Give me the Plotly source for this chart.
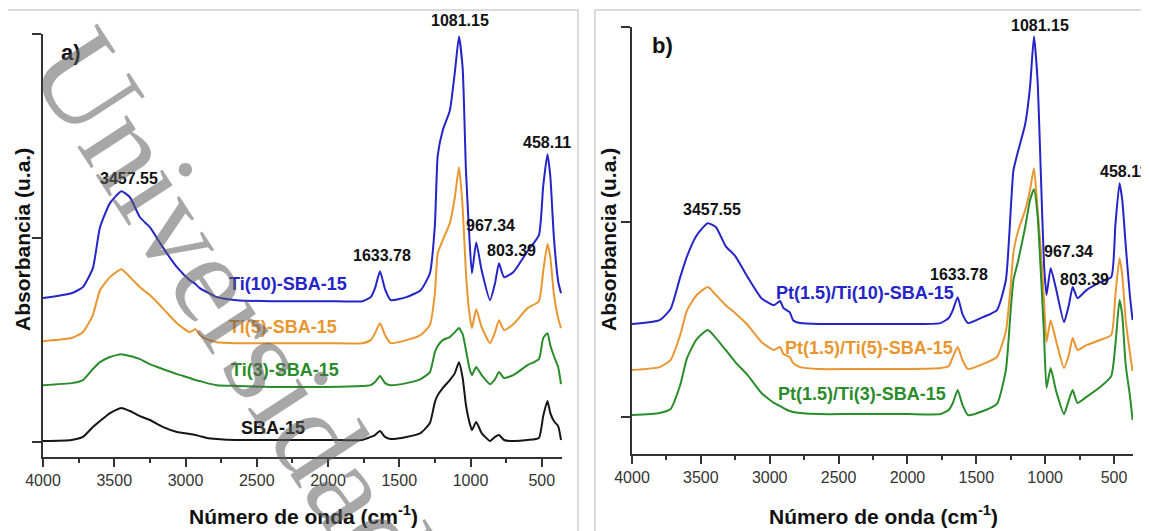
import plotly.graph_objects as go

# ---------------- data ----------------
wn_a = [4000, 3800, 3720, 3650, 3600, 3530, 3450, 3390, 3320, 3250, 3160, 3060, 2970, 2930, 2900, 2850,
        2780, 2640, 2400, 2000, 1760, 1700, 1670, 1635, 1600, 1560, 1450, 1350, 1285, 1250, 1230, 1195,
        1145, 1110, 1081, 1055, 1032, 1008, 990, 960, 922, 863, 828, 800, 765, 700, 600, 520, 490, 460,
        440, 415, 385, 365]

ti10 = [0.706, 0.730, 0.760, 0.853, 1.054, 1.172, 1.230, 1.201, 1.103, 1.054, 0.956, 0.858, 0.794, 0.775,
        0.755, 0.735, 0.711, 0.696, 0.691, 0.691, 0.691, 0.711, 0.755, 0.838, 0.750, 0.696, 0.711, 0.745,
        0.828, 1.064, 1.407, 1.529, 1.627, 1.814, 1.990, 1.833, 1.333, 1.005, 0.828, 0.980, 0.843, 0.696,
        0.779, 0.877, 0.809, 0.833, 0.936, 1.015, 1.255, 1.412, 1.304, 1.005, 0.789, 0.730]

ti5 = [0.495, 0.510, 0.539, 0.623, 0.745, 0.809, 0.848, 0.809, 0.760, 0.721, 0.657, 0.583, 0.539, 0.554,
       0.525, 0.505, 0.490, 0.485, 0.485, 0.485, 0.485, 0.500, 0.534, 0.583, 0.525, 0.485, 0.500, 0.525,
       0.574, 0.730, 0.926, 0.990, 1.074, 1.201, 1.348, 1.152, 0.828, 0.632, 0.559, 0.652, 0.564, 0.485,
       0.539, 0.598, 0.549, 0.578, 0.657, 0.691, 0.838, 0.971, 0.907, 0.725, 0.608, 0.559]

ti3 = [0.279, 0.289, 0.304, 0.358, 0.392, 0.417, 0.431, 0.422, 0.407, 0.382, 0.358, 0.333, 0.314, 0.304,
       0.299, 0.289, 0.279, 0.275, 0.270, 0.270, 0.275, 0.279, 0.294, 0.324, 0.289, 0.279, 0.289, 0.309,
       0.343, 0.441, 0.471, 0.500, 0.515, 0.539, 0.559, 0.529, 0.451, 0.363, 0.328, 0.368, 0.328, 0.284,
       0.309, 0.343, 0.314, 0.328, 0.377, 0.407, 0.510, 0.534, 0.475, 0.422, 0.368, 0.284]

sba15 = [0.005, 0.010, 0.025, 0.074, 0.103, 0.142, 0.167, 0.152, 0.127, 0.108, 0.074, 0.049, 0.039, 0.034,
         0.029, 0.020, 0.015, 0.010, 0.010, 0.010, 0.010, 0.025, 0.034, 0.054, 0.025, 0.015, 0.025, 0.044,
         0.093, 0.196, 0.230, 0.265, 0.304, 0.338, 0.392, 0.314, 0.181, 0.098, 0.059, 0.098, 0.044, 0.005,
         0.025, 0.034, 0.010, 0.005, 0.010, 0.020, 0.127, 0.201, 0.142, 0.103, 0.078, 0.010]

wn_b = [4000, 3800, 3720, 3650, 3600, 3530, 3450, 3390, 3320, 3250, 3160, 3060, 2970, 2925, 2900, 2855,
        2830, 2780, 2640, 2400, 2000, 1760, 1700, 1670, 1635, 1600, 1560, 1450, 1350, 1285, 1250, 1230,
        1195, 1145, 1110, 1081, 1055, 1032, 1008, 990, 960, 922, 863, 828, 800, 765, 700, 600, 520, 490,
        460, 440, 415, 385, 365]

pt_ti10 = [0.477, 0.497, 0.554, 0.718, 0.826, 0.933, 0.995, 0.974, 0.877, 0.826, 0.718, 0.610, 0.574, 0.595,
           0.559, 0.538, 0.497, 0.482, 0.477, 0.477, 0.477, 0.482, 0.508, 0.549, 0.615, 0.528, 0.482, 0.513,
           0.549, 0.703, 1.062, 1.267, 1.369, 1.503, 1.692, 1.954, 1.728, 1.267, 0.780, 0.626, 0.764, 0.662,
           0.487, 0.574, 0.667, 0.610, 0.651, 0.692, 0.718, 0.985, 1.200, 1.113, 0.882, 0.626, 0.497]

pt_ti5 = [0.241, 0.256, 0.292, 0.421, 0.549, 0.626, 0.667, 0.626, 0.574, 0.533, 0.472, 0.385, 0.344, 0.359,
          0.323, 0.308, 0.277, 0.256, 0.246, 0.246, 0.246, 0.251, 0.262, 0.308, 0.359, 0.292, 0.246, 0.272,
          0.308, 0.440, 0.677, 0.846, 0.959, 1.062, 1.164, 1.277, 1.067, 0.862, 0.600, 0.385, 0.497, 0.395,
          0.251, 0.318, 0.405, 0.344, 0.369, 0.395, 0.421, 0.626, 0.815, 0.728, 0.497, 0.333, 0.236]

pt_ti3 = [0.010, 0.021, 0.041, 0.164, 0.303, 0.400, 0.446, 0.405, 0.344, 0.282, 0.215, 0.123, 0.072, 0.056,
          0.046, 0.031, 0.026, 0.021, 0.015, 0.015, 0.015, 0.015, 0.036, 0.072, 0.138, 0.062, 0.010, 0.031,
          0.067, 0.241, 0.549, 0.703, 0.805, 0.974, 1.113, 1.169, 1.036, 0.754, 0.421, 0.149, 0.251, 0.138,
          0.015, 0.087, 0.138, 0.072, 0.103, 0.154, 0.210, 0.369, 0.600, 0.523, 0.267, 0.113, -0.015]

series_a = ["Ti(10)-SBA-15", "Ti(5)-SBA-15", "Ti(3)-SBA-15", "SBA-15"]
series_b = ["Pt(1.5)/Ti(10)-SBA-15", "Pt(1.5)/Ti(5)-SBA-15", "Pt(1.5)/Ti(3)-SBA-15"]
peak_labels = ["3457.55", "1633.78", "1081.15", "967.34", "803.39", "458.11"]
xticks = [4000, 3500, 3000, 2500, 2000, 1500, 1000, 500]
xminor = [3750, 3250, 2750, 2250, 1750, 1250, 750]

# ---------------- style ----------------
BLUE = "#2424c8"
ORANGE = "#ea9630"
GREEN = "#2a8c2a"
BLACK = "#151515"
AX = "#333333"
FONT = "Liberation Sans, Arial, sans-serif"
VW, VH = 1149, 531          # browser window
OFF = 8                     # html body margin
W, H = VW - OFF, VH - OFF   # figure size so that it ends at the window edge


def PX(px):
    return (px - OFF) / W


def PY(py):
    return 1 - (py - OFF) / H


fig = go.Figure()


def add_line(x, y, color, xa, ya, name):
    fig.add_trace(go.Scatter(x=x, y=y, mode="lines", name=name, xaxis=xa, yaxis=ya,
                             line=dict(color=color, width=2, shape="spline", smoothing=0.5),
                             showlegend=False, hoverinfo="skip"))


add_line(wn_a, ti10, BLUE, "x", "y", series_a[0])
add_line(wn_a, ti5, ORANGE, "x", "y", series_a[1])
add_line(wn_a, ti3, GREEN, "x", "y", series_a[2])
add_line(wn_a, sba15, BLACK, "x", "y", series_a[3])
add_line(wn_b, pt_ti10, BLUE, "x2", "y2", series_b[0])
add_line(wn_b, pt_ti5, ORANGE, "x2", "y2", series_b[1])
add_line(wn_b, pt_ti3, GREEN, "x2", "y2", series_b[2])


def xax(domain, rng, anchor):
    return dict(domain=domain, range=rng, tickmode="array", tickvals=xticks, anchor=anchor,
                automargin=False,
                ticks="outside", ticklen=8, tickwidth=1.5, tickcolor=AX,
                showline=True, linecolor=AX, linewidth=1.5, showgrid=False, zeroline=False,
                tickfont=dict(family=FONT, size=16, color="#333"),
                minor=dict(tickmode="array", tickvals=xminor,
                           ticks="outside", ticklen=4, tickwidth=1.5, tickcolor=AX))


def yax(domain, rng, anchor):
    return dict(domain=domain, range=rng, tickmode="array", tickvals=[0, 1, 2], showticklabels=False,
                automargin=False,
                ticks="outside", ticklen=9, tickwidth=1.5, tickcolor=AX,
                showline=True, linecolor=AX, linewidth=1.5, showgrid=False, zeroline=False,
                anchor=anchor)


ann = []


def txt(x, y, text, color="#111", size=16, xref="x", yref="y", bold=True, family=FONT, angle=0):
    ann.append(dict(x=x, y=y, xref=xref, yref=yref, text=f"<b>{text}</b>" if bold else text,
                    showarrow=False, textangle=angle,
                    font=dict(family=family, size=size, color=color),
                    xanchor="center", yanchor="middle"))


# peak labels; 1081.15 sits above the axis top, so it is placed in paper coords
pos_a = {"3457.55": (3396, 1.294), "1633.78": (1621, 0.917), "967.34": (863, 1.064),
         "803.39": (709, 0.941), "458.11": (463, 1.471)}
pos_b = {"3457.55": (3419, 1.067), "1633.78": (1625, 0.733), "967.34": (834, 0.851),
         "803.39": (717, 0.708), "458.11": (427, 1.262)}
for lab in peak_labels:
    if lab in pos_a:
        txt(pos_a[lab][0], pos_a[lab][1], lab)
        txt(pos_b[lab][0], pos_b[lab][1], lab, xref="x2", yref="y2")
txt(PX(460), PY(20), peak_labels[2], xref="paper", yref="paper")
txt(PX(1040), PY(25), peak_labels[2], xref="paper", yref="paper")

# series labels
for lab, col, (x, y) in zip(series_a, [BLUE, ORANGE, GREEN, BLACK],
                            [(2281, 0.775), (2316, 0.564), (2302, 0.353), (2386, 0.069)]):
    txt(x, y, lab, color=col, size=18)
for lab, col, (x, y) in zip(series_b, [BLUE, ORANGE, GREEN],
                            [(2308, 0.636), (2279, 0.354), (2330, 0.118)]):
    txt(x, y, lab, color=col, size=18, xref="x2", yref="y2")

# panel letters and axis titles
for t, (px, py) in [("a)", (71, 52)), ("b)", (662, 45))]:
    txt(PX(px), PY(py), t, size=22, xref="paper", yref="paper")
for px in (22, 608):
    txt(PX(px), PY(240), "Absorbancia (u.a.)", size=21, xref="paper", yref="paper", angle=-90)
for px in (303, 883):
    txt(PX(px), PY(515), "Número de onda (cm<sup>-1</sup>)", size=21, xref="paper", yref="paper")

# watermark
ann.append(dict(x=PX(232), y=PY(306), xref="paper", yref="paper", text="Universidad", showarrow=False,
                textangle=57, font=dict(family="Liberation Serif, Times New Roman, serif", size=128,
                                        color="rgba(95,95,95,0.55)"),
                xanchor="center", yanchor="middle"))

shapes = [
    dict(type="rect", xref="paper", yref="paper", x0=PX(7), x1=PX(578), y0=-0.05, y1=PY(10),
         line=dict(color="#cfcfcf", width=1.5), layer="below"),
    dict(type="rect", xref="paper", yref="paper", x0=PX(595), x1=1.05, y0=-0.05, y1=PY(10),
         line=dict(color="#cfcfcf", width=1.5), layer="below"),
]

fig.update_layout(
    template="none",
    width=W, height=H, margin=dict(l=0, r=0, t=0, b=0, pad=0), autosize=False,
    paper_bgcolor="white", plot_bgcolor="rgba(0,0,0,0)",
    xaxis=xax([PX(43), PX(562)], [4000, 358], "y"),
    yaxis=yax([PY(457), PY(34)], [-0.0735, 2.002], "x"),
    xaxis2=xax([PX(632), PX(1133)], [4000, 362], "y2"),
    yaxis2=yax([PY(454), PY(27)], [-0.19, 2.002], "x2"),
    annotations=ann, shapes=shapes, showlegend=False,
)

fig.write_html("out.html")
